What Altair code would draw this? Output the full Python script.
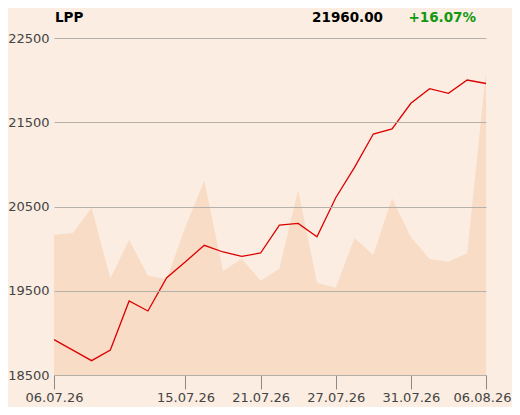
import altair as alt
import pandas as pd

# trading-day labels (index positions on the x axis)
dates = ["06.07.26", "07.07.26", "08.07.26", "09.07.26", "10.07.26", "13.07.26",
         "14.07.26", "15.07.26", "16.07.26", "17.07.26", "20.07.26", "21.07.26",
         "22.07.26", "23.07.26", "24.07.26", "27.07.26", "28.07.26", "29.07.26",
         "30.07.26", "31.07.26", "03.08.26", "04.08.26", "05.08.26", "06.08.26"]
price = [18920, 18795, 18670, 18797, 19378, 19260, 19655, 19845, 20039, 19960,
         19909, 19948, 20280, 20300, 20142, 20604, 20965, 21360, 21420, 21725,
         21898, 21843, 22001, 21960]
volume = [14030, 14200, 16730, 9670, 13500, 9930, 9570, 14830, 19430, 10400,
          11630, 9430, 10630, 18500, 9230, 8730, 13700, 12000, 17670, 13770,
          11600, 11330, 12170, 30330]
tick_idx = [0, 7, 11, 15, 19, 23]
y_ticks = [18500, 19500, 20500, 21500, 22500]

df = pd.DataFrame({"i": list(range(len(dates))), "date": dates,
                   "price": price, "volume": volume})

FONT = "DejaVu Sans"
label_expr = "[" + ",".join("'%s'" % d for d in dates) + "][datum.value]"
last_i = len(dates) - 1

x_enc = alt.X("i:Q", scale=alt.Scale(domain=[0, last_i], nice=False, zero=False),
              axis=alt.Axis(values=tick_idx, labelExpr=label_expr, grid=False,
                            domainColor="#8a8a8a", tickColor="#8a8a8a", tickSize=14,
                            labelPadding=2, labelFontSize=13, labelColor="#444444",
                            labelFont=FONT, labelFlush=False, labelOverlap=False,
                            labelOffset=alt.condition("datum.value == %d" % last_i,
                                                      alt.value(-4), alt.value(0)),
                            title=None))

area = alt.Chart(df).mark_area(color="#F8DCC6", opacity=1).encode(
    x=x_enc,
    y=alt.Y("volume:Q", scale=alt.Scale(domain=[0, 33700], nice=False), axis=None),
)

line = alt.Chart(df).mark_line(color="#DD0000", strokeWidth=1.3).encode(
    x=x_enc,
    y=alt.Y("price:Q", scale=alt.Scale(domain=[18500, 22500], nice=False, zero=False),
            axis=alt.Axis(values=y_ticks, format="d", domain=False, ticks=False, grid=True,
                          gridColor="#b5b0aa", gridWidth=1, labelPadding=5,
                          labelFontSize=13, labelColor="#444444", labelFont=FONT,
                          title=None, zindex=1)),
)

first, last = price[0], price[-1]
pct = (last / first - 1) * 100
hdr = pd.DataFrame({"name": ["LPP"], "last": ["%.2f" % last],
                    "pct": ["%+.2f%%" % pct]})

t_name = alt.Chart(hdr).mark_text(align="left", baseline="alphabetic", fontSize=13.5,
                                  fontWeight="bold", font=FONT, color="#000000").encode(
    text="name:N", x=alt.value(1), y=alt.value(-16))
t_last = alt.Chart(hdr).mark_text(align="right", baseline="alphabetic", fontSize=13.5,
                                  fontWeight="bold", font=FONT, color="#000000").encode(
    text="last:N", x=alt.value(329), y=alt.value(-16))
t_pct = alt.Chart(hdr).mark_text(align="right", baseline="alphabetic", fontSize=13.5,
                                 fontWeight="bold", font=FONT, color="#119911").encode(
    text="pct:N", x=alt.value(422), y=alt.value(-16))

chart = alt.layer(area, line, t_name, t_last, t_pct).resolve_scale(y="independent").properties(
    width=432, height=337,
    background="#FBEDE1",
    padding={"left": 46, "top": 30, "right": 26, "bottom": 32},
    autosize=alt.AutoSizeParams(type="none"),
).configure_view(stroke=None)

chart.save("out.html", embed_options={"renderer": "svg", "actions": False})
